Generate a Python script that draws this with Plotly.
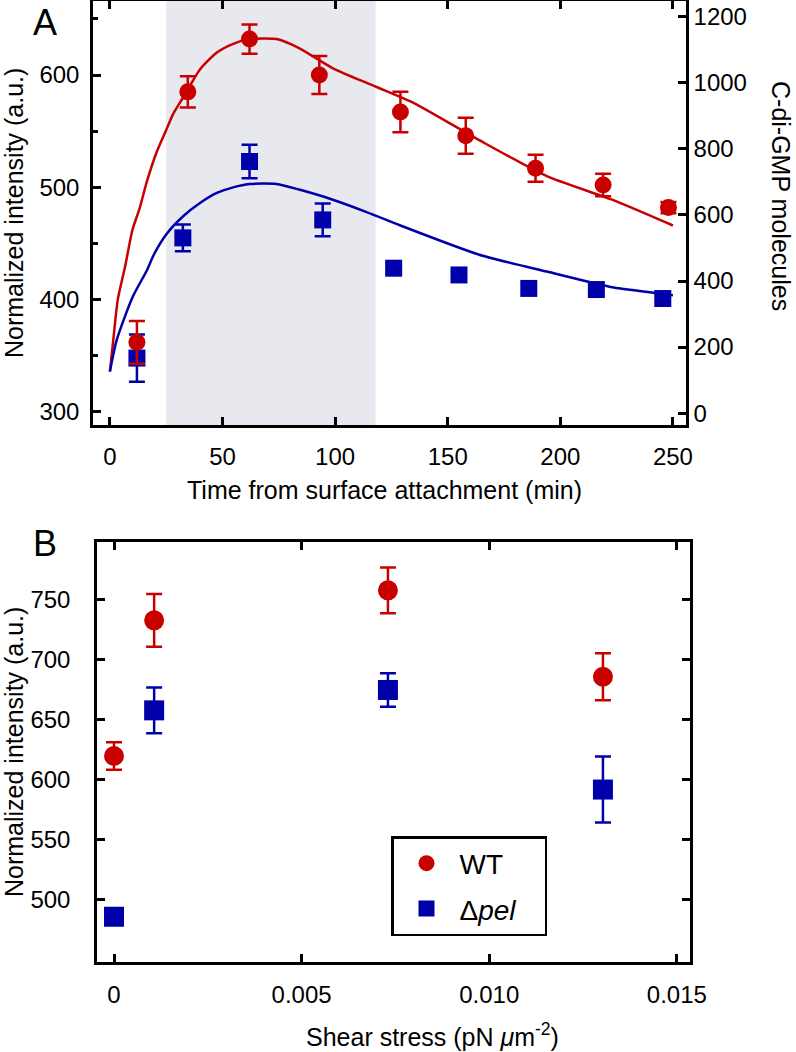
import plotly.graph_objects as go

# ---------------- Panel A data ----------------
a_time_wt = [12, 34.6, 62, 93, 129, 158, 189, 219, 248]
a_wt = [362, 585, 632, 600, 567, 546, 517, 502, 482]
a_wt_err = [19, 14, 13, 17, 18, 16, 12, 10, 5]

a_time_pel = [12, 32.4, 62, 94.5, 126, 155, 186, 216, 245.5]
a_pel = [348, 455, 523, 471, 428, 422, 410, 409, 401]
a_pel_err = [21, 12, 15, 14.5, 5, 4, 4, 4, 4]

a_fit_time_wt = [0, 1.5, 3.5, 6.7, 10, 13.3, 16.4, 20.7, 25, 28, 32.5, 40, 47.5, 55, 62, 74, 84, 99, 114, 120, 135, 164, 194, 223, 250]
a_fit_wt = [336, 364, 400, 429, 462, 482, 505, 531, 551, 565, 580, 605, 620, 628, 632, 632, 624, 606, 593, 588, 575, 542, 510, 489, 466]

a_fit_time_pel = [0, 3, 10, 16.4, 19.5, 25, 32.4, 40, 47.5, 54.7, 62, 74, 84, 99, 114, 129, 164, 194, 223, 238, 250]
a_fit_pel = [336, 364, 402, 426, 440, 458, 474, 486, 495, 500, 503, 503, 498, 489, 478, 466, 440, 425, 411, 407, 404]

a_shade = [25, 118]

a_xticks = [0, 50, 100, 150, 200, 250]
a_yticks = [300, 400, 500, 600]
a_y2ticks = [0, 200, 400, 600, 800, 1000, 1200]

# ---------------- Panel B data ----------------
b_shear = [0, 0.00107, 0.0073, 0.01303]
b_wt = [620, 733, 758, 686]
b_wt_err = [11.5, 22, 19, 19.5]
b_pel = [486, 658, 675, 592]
b_pel_err = [3, 19, 14, 27.5]

b_xticks = [0, 0.005, 0.010, 0.015]
b_xticktext = ["0", "0.005", "0.010", "0.015"]
b_yticks = [500, 550, 600, 650, 700, 750]

RED = "#c80000"
BLUE = "#0000aa"
SHADE = "#e8e9ee"
FONT = "Liberation Sans, Arial, Helvetica, sans-serif"

W, H = 796, 1052


def px(x):
    return x / W


def py(y):
    return (H - y) / H


fig = go.Figure()

# Panel A fitted curves
fig.add_trace(go.Scatter(x=a_fit_time_wt, y=a_fit_wt, mode="lines",
                         line=dict(color=RED, width=2.5, shape="spline", smoothing=0.6),
                         xaxis="x", yaxis="y", showlegend=False, hoverinfo="skip"))
fig.add_trace(go.Scatter(x=a_fit_time_pel, y=a_fit_pel, mode="lines",
                         line=dict(color=BLUE, width=2.5, shape="spline", smoothing=0.6),
                         xaxis="x", yaxis="y", showlegend=False, hoverinfo="skip"))

# Panel A data points
fig.add_trace(go.Scatter(x=a_time_pel, y=a_pel, mode="markers",
                         marker=dict(symbol="square", size=17, color=BLUE, line=dict(width=0)),
                         error_y=dict(type="data", array=a_pel_err, color=BLUE, thickness=2.5, width=8),
                         xaxis="x", yaxis="y", showlegend=False))
fig.add_trace(go.Scatter(x=a_time_wt, y=a_wt, mode="markers",
                         marker=dict(symbol="circle", size=17, color=RED, line=dict(width=0)),
                         error_y=dict(type="data", array=a_wt_err, color=RED, thickness=2.5, width=8),
                         xaxis="x", yaxis="y", showlegend=False))
# dummy trace to activate y2
fig.add_trace(go.Scatter(x=[None], y=[None], xaxis="x", yaxis="y2", showlegend=False, hoverinfo="skip"))

# Panel B
fig.add_trace(go.Scatter(x=b_shear, y=b_wt, mode="markers", name="WT\u00a0\u00a0\u00a0\u00a0", legendgroup="wt",
                         marker=dict(symbol="circle", size=20, color=RED, line=dict(width=0)),
                         error_y=dict(type="data", array=b_wt_err, color=RED, thickness=2.5, width=8),
                         xaxis="x2", yaxis="y3"))
fig.add_trace(go.Scatter(x=b_shear, y=b_pel, mode="markers", name="Δ<i>pel</i>\u00a0\u00a0\u00a0", legendgroup="pel",
                         marker=dict(symbol="square", size=20, color=BLUE, line=dict(width=0)),
                         error_y=dict(type="data", array=b_pel_err, color=BLUE, thickness=2.5, width=8),
                         xaxis="x2", yaxis="y3"))

axis_common = dict(showline=True, linecolor="black", linewidth=2.5, ticks="inside",
                   ticklen=8, tickwidth=2.5, tickcolor="black", showgrid=False, zeroline=False,
                   tickfont=dict(family=FONT, size=24, color="black"), automargin=False)

fig.update_layout(
    width=W, height=H,
    margin=dict(l=0, r=0, t=0, b=0),
    paper_bgcolor="white", plot_bgcolor="white",
    font=dict(family=FONT, color="black"),
    xaxis=dict(domain=[px(93), px(686)], anchor="y", range=[-7.5, 255.8],
               tickvals=a_xticks, mirror="ticks", ticklabelstandoff=8, **axis_common),
    yaxis=dict(domain=[py(425), py(1)], anchor="x", range=[288.4, 665.9],
               tickvals=a_yticks, ticklabelstandoff=6,
               minor=dict(dtick=50, tick0=300, ticks="inside", ticklen=5, tickwidth=2.5, tickcolor="black"),
               **axis_common),
    yaxis2=dict(overlaying="y", side="right", anchor="x", range=[-36, 1248],
                tickvals=a_y2ticks, ticklabelstandoff=0, **axis_common),
    xaxis2=dict(domain=[px(97), px(690)], anchor="y3", range=[-0.000453, 0.01535],
                tickvals=b_xticks, ticktext=b_xticktext, mirror="ticks", ticklabelstandoff=9,
                **axis_common),
    yaxis3=dict(domain=[py(962), py(542)], anchor="x2", range=[448.3, 798.3],
                tickvals=b_yticks, mirror="ticks", ticklabelstandoff=19, **axis_common),
    legend=dict(x=px(391), y=py(836), xanchor="left", yanchor="top",
                bordercolor="black", borderwidth=2.5, bgcolor="white",
                font=dict(family=FONT, size=28, color="black"),
                tracegroupgap=6, itemsizing="trace", itemwidth=56),
    shapes=[dict(type="rect", xref="x", yref="y domain", x0=a_shade[0], x1=a_shade[1],
                 y0=0, y1=1, fillcolor=SHADE, line=dict(width=0), layer="below")],
)

ann_font = dict(family=FONT, size=25, color="black")
annotations = [
    dict(text="A", x=px(45), y=py(22), xref="paper", yref="paper", showarrow=False,
         font=dict(family=FONT, size=36, color="black"), xanchor="center", yanchor="middle"),
    dict(text="B", x=px(45), y=py(543), xref="paper", yref="paper", showarrow=False,
         font=dict(family=FONT, size=36, color="black"), xanchor="center", yanchor="middle"),
    dict(text="Normalized intensity (a.u.)", x=px(14), y=py(213), xref="paper", yref="paper",
         showarrow=False, textangle=-90, font=ann_font, xanchor="center", yanchor="middle"),
    dict(text="C-di-GMP molecules", x=px(781), y=py(196), xref="paper", yref="paper",
         showarrow=False, textangle=90, font=ann_font, xanchor="center", yanchor="middle"),
    dict(text="Time from surface attachment (min)", x=px(384), y=py(490), xref="paper", yref="paper",
         showarrow=False, font=ann_font, xanchor="center", yanchor="middle"),
    dict(text="Normalized intensity (a.u.)", x=px(14), y=py(752), xref="paper", yref="paper",
         showarrow=False, textangle=-90, font=ann_font, xanchor="center", yanchor="middle"),
    dict(text="Shear stress (pN <i>μ</i>m<sup>-2</sup>)", x=px(432), y=py(1035), xref="paper", yref="paper",
         showarrow=False, font=ann_font, xanchor="center", yanchor="middle"),
]
fig.update_layout(annotations=annotations)

fig.write_html("out.html", config={"displayModeBar": False},
               post_script="document.body.style.margin='0';document.body.style.padding='0';")
